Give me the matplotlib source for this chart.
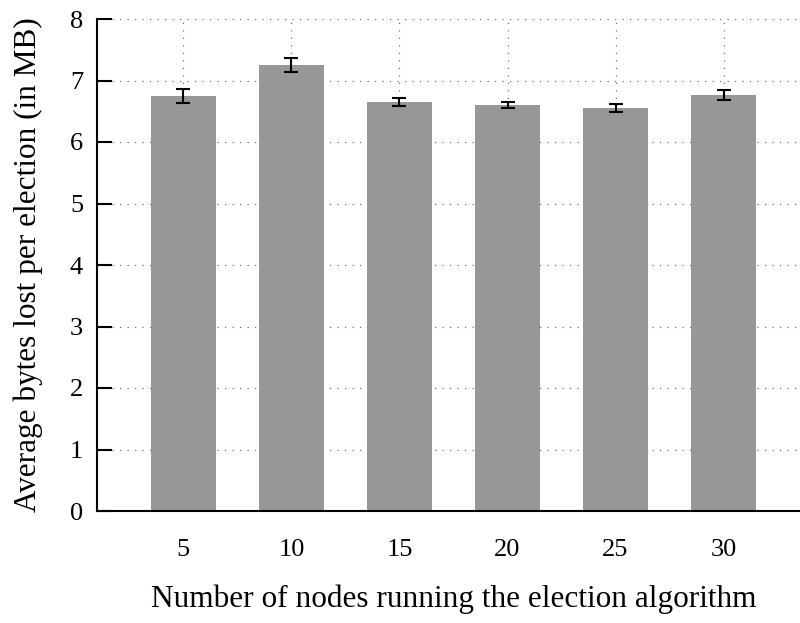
import matplotlib
matplotlib.use('Agg')
import matplotlib.pyplot as plt

# =============================================================================
# Data
# =============================================================================
nodes = [5, 10, 15, 20, 25, 30]
bytes_lost = [6.75, 7.25, 6.65, 6.60, 6.55, 6.76]
bytes_err = [0.11, 0.115, 0.07, 0.05, 0.07, 0.085]

plt.rcParams['font.family'] = ['Liberation Serif', 'DejaVu Serif']

# =============================================================================
# Figure
# =============================================================================
fig = plt.figure(figsize=(8.0, 6.23), dpi=100)
ax = fig.add_axes([97 / 800, 1 - 511 / 623, 713 / 800, 492 / 623])

pos = list(range(1, len(nodes) + 1))
ax.bar(pos, bytes_lost, width=0.6, color='#979797', zorder=2)
ax.errorbar(pos, bytes_lost, yerr=bytes_err, fmt='none', ecolor='black',
            elinewidth=1.5, capsize=5, capthick=1.5, zorder=3)

ax.set_xlim(0.2, 6.8)
ax.set_ylim(0, 8)
ax.set_xticks(pos)
ax.set_xticklabels([str(n) for n in nodes])
ax.set_yticks(range(0, 9))

ax.grid(True, linestyle=(0, (1, 5)), color='#707070', linewidth=0.9, zorder=0)
ax.set_axisbelow(True)

for side in ('top', 'right'):
    ax.spines[side].set_visible(False)
for side in ('left', 'bottom'):
    ax.spines[side].set_linewidth(1.5)

ax.tick_params(axis='y', direction='in', length=11, width=1.5,
               labelsize=19, pad=10)
ax.tick_params(axis='x', length=0, labelsize=19, pad=20)

ax.set_xlabel('Number of nodes running the election algorithm',
              fontsize=22.5, labelpad=17)
ax.set_ylabel('Average bytes lost per election (in MB)', fontsize=22.5,
              labelpad=19)

fig.savefig('out.png', dpi=100)
